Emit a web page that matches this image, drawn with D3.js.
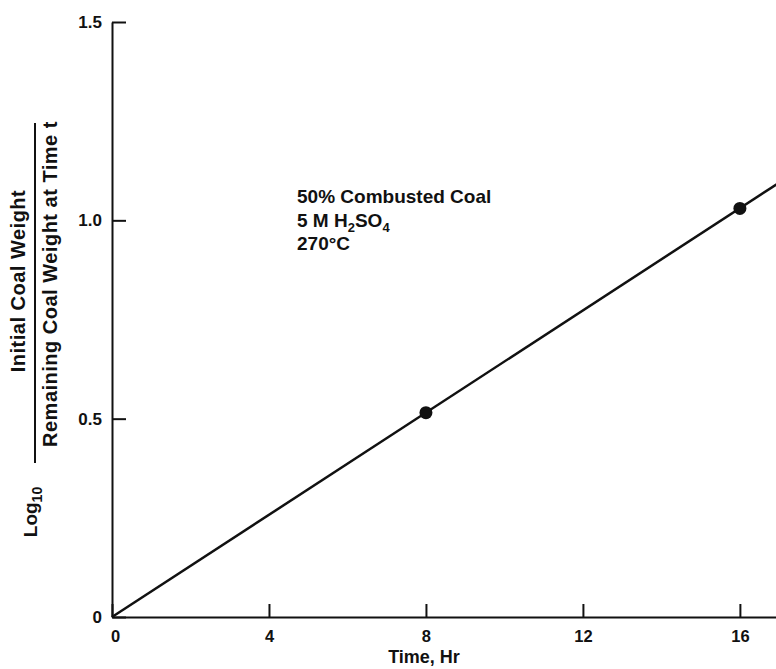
<!DOCTYPE html>
<html>
<head>
<meta charset="utf-8">
<script src="https://cdn.jsdelivr.net/npm/d3@7"></script>
<style>
	body { margin: 0; background: #fff; }
	svg text { font-family: "Liberation Sans", Arial, Helvetica, sans-serif; font-weight: bold; fill: #111; }
</style>
</head>
<body>
<div id="chart"></div>
<script>
// measured points
var times = [8, 16];
var values = [0.515, 1.03];

// straight fit through the origin
var fitTimes = [0, 17];
var fitValues = [0, 1.095];

var xTicks = [0, 4, 8, 12, 16];
var yTicks = [0, 0.5, 1.0, 1.5];
var yTickLabels = ["0", "0.5", "1.0", "1.5"];

var noteLines = ["50% Combusted Coal", "5 M H2SO4", "270°C"];

(function() {
	var width = 776,
		height = 669;

	var svg = d3.select("#chart")
		.append("svg")
		.attr("width", width)
		.attr("height", height);

	// scales
	var x = d3.scaleLinear()
		.domain([0, 16.92])
		.range([112, 776]);

	var y = d3.scaleLinear()
		.domain([0, 1.5])
		.range([617, 22]);

	// y axis, ticks pointing inward
	var yAxis = d3.axisLeft(y)
		.tickValues(yTicks)
		.tickFormat(function(d, i) { return yTickLabels[i]; })
		.tickSizeInner(-14)
		.tickSizeOuter(0)
		.tickPadding(10);

	var gy = svg.append("g")
		.attr("transform", "translate(" + x(0) + ",0)")
		.call(yAxis);

	// x axis, ticks pointing up
	var xAxis = d3.axisBottom(x)
		.tickValues(xTicks)
		.tickFormat(d3.format("d"))
		.tickSizeInner(-13)
		.tickSizeOuter(0)
		.tickPadding(13);

	var gx = svg.append("g")
		.attr("transform", "translate(0," + y(0) + ")")
		.call(xAxis);

	svg.selectAll(".domain, .tick line")
		.attr("stroke", "#111")
		.attr("stroke-width", 2);

	svg.selectAll(".tick text")
		.attr("font-size", 17)
		.attr("fill", "#111");

	gx.selectAll(".tick text")
		.attr("font-size", 16.5);

	// "0" under the origin sits a bit to the right
	gx.selectAll(".tick text")
		.filter(function(d) { return d === 0; })
		.attr("x", 3);

	// fitted line
	var line = d3.line()
		.x(function(d) { return x(d[0]); })
		.y(function(d) { return y(d[1]); });

	svg.append("path")
		.datum(d3.zip(fitTimes, fitValues))
		.attr("d", line)
		.attr("fill", "none")
		.attr("stroke", "#111")
		.attr("stroke-width", 2.5);

	// data points
	svg.selectAll(".pt")
		.data(d3.zip(times, values))
		.enter().append("circle")
		.attr("class", "pt")
		.attr("cx", function(d) { return x(d[0]); })
		.attr("cy", function(d) { return y(d[1]); })
		.attr("r", 6.5)
		.attr("fill", "#111");

	// x title
	svg.append("text")
		.attr("x", 424)
		.attr("y", 663)
		.attr("text-anchor", "middle")
		.attr("font-size", 18)
		.text("Time, Hr");

	// note block
	var note = svg.append("text")
		.attr("x", 297)
		.attr("y", 203)
		.attr("font-size", 19);

	note.append("tspan")
		.attr("x", 297)
		.text(noteLines[0]);

	var l2 = note.append("tspan")
		.attr("x", 297)
		.attr("dy", 23.5);
	l2.append("tspan").text("5 M H");
	l2.append("tspan").attr("font-size", 13).attr("dy", 5).text("2");
	l2.append("tspan").attr("dy", -5).text("SO");
	l2.append("tspan").attr("font-size", 13).attr("dy", 5).text("4");

	note.append("tspan")
		.attr("x", 297)
		.attr("dy", 18.5)
		.text(noteLines[2]);

	// y title: log10 of a fraction
	svg.append("text")
		.attr("transform", "translate(25,281) rotate(-90)")
		.attr("text-anchor", "middle")
		.attr("font-size", 20)
		.attr("letter-spacing", 0.5)
		.text("Initial Coal Weight");

	svg.append("line")
		.attr("x1", 35).attr("x2", 35)
		.attr("y1", 123).attr("y2", 463)
		.attr("stroke", "#111")
		.attr("stroke-width", 2);

	svg.append("text")
		.attr("transform", "translate(57,284) rotate(-90)")
		.attr("text-anchor", "middle")
		.attr("font-size", 20)
		.attr("letter-spacing", 0.5)
		.text("Remaining Coal Weight at Time t");

	var lg = svg.append("text")
		.attr("transform", "translate(37,512) rotate(-90)")
		.attr("text-anchor", "middle")
		.attr("font-size", 19);
	lg.append("tspan").text("Log");
	lg.append("tspan").attr("font-size", 14).attr("dy", 5).text("10");

})();
</script>
</body>
</html>
